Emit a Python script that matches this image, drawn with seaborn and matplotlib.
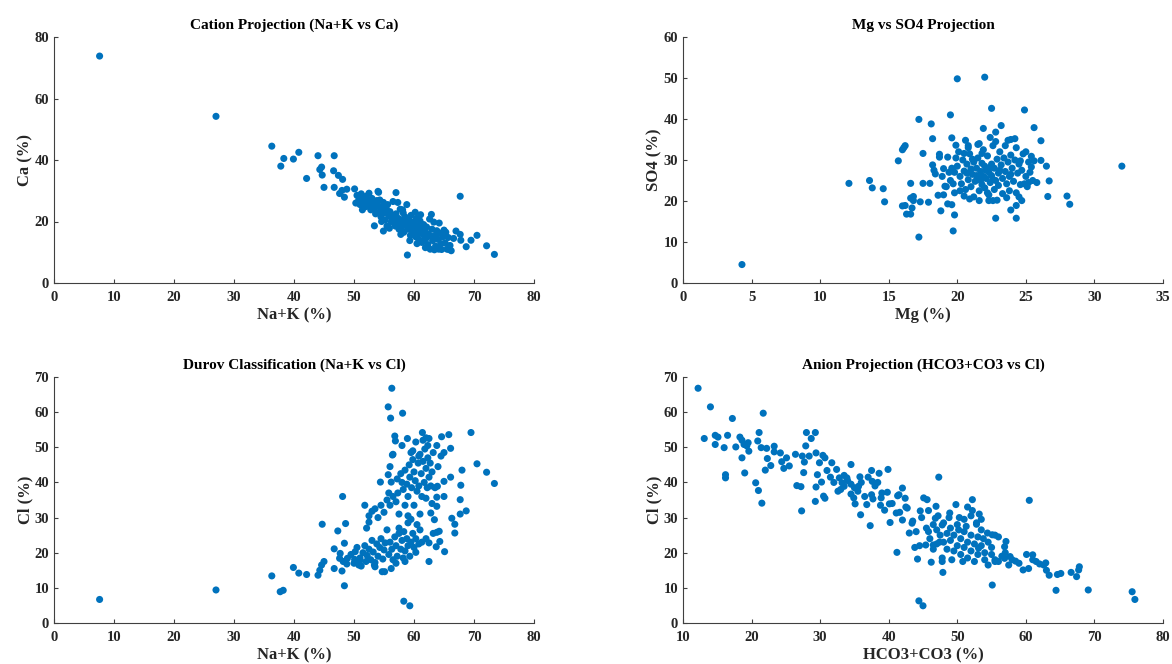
import matplotlib
matplotlib.use("Agg")
import matplotlib.pyplot as plt
import seaborn as sns
import pandas as pd

# ---------------- data ----------------
# Panel 1: Na+K vs Ca
p1_nak = [7.6, 27.0, 36.3, 37.8, 38.3, 39.9, 40.8, 42.1, 44.0, 44.3, 44.6, 44.7, 45.0, 46.7, 46.6, 46.7,
          47.4, 48.1, 47.6, 48.0, 48.4, 48.8, 50.1, 54.0, 57.0, 67.7, 53.4, 54.9, 58.9, 70.5, 72.1, 73.4,
          69.5, 68.7, 67.8, 67.7, 67.0, 65.8, 64.6, 66.6,
          50.5, 50.8, 51.0, 51.2, 51.5, 51.7, 51.9, 52.0, 52.2, 52.4, 52.6, 52.8, 53.0, 53.2, 53.4, 53.6, 53.8, 50.3, 51.4, 52.5,
          54.0, 54.2, 54.3, 54.5, 54.7, 54.9, 55.0, 55.2, 55.4, 55.6, 55.8, 56.0, 56.2, 54.6, 55.5, 56.4, 56.5, 55.9, 54.1, 56.8,
          57.0, 57.2, 57.4, 57.5, 57.7, 57.9, 58.0, 58.2, 58.3, 58.5, 58.7, 58.8, 59.0, 59.2, 59.4, 59.5, 59.7, 59.9, 57.3, 58.1, 56.9, 57.8, 59.3,
          60.0, 60.1, 60.3, 60.4, 60.6, 60.8, 60.9, 61.0, 61.2, 61.3, 61.5, 61.6, 61.8, 62.0, 62.1, 62.3, 62.4, 62.6, 62.8, 61.1, 60.5, 62.9, 60.2, 61.9,
          63.0, 63.1, 63.3, 63.5, 63.6, 63.8, 64.0, 64.2, 64.3, 64.5, 64.8, 65.0, 65.2, 65.5, 65.7, 66.0, 64.1, 63.4, 65.3, 62.7, 66.2,
          56.3, 57.6, 58.6, 59.6, 60.7, 61.7, 58.4, 59.1, 60.0, 57.1, 55.3, 53.9]
p1_ca = [73.8, 54.2, 44.5, 38.0, 40.5, 40.3, 42.5, 34.0, 41.4, 36.9, 37.7, 35.1, 31.1, 41.4, 36.5, 31.1,
         35.0, 33.7, 29.1, 30.1, 27.9, 30.5, 30.6, 29.8, 29.4, 28.2, 18.6, 16.9, 9.1, 15.5, 12.1, 9.3,
         13.9, 11.8, 13.9, 15.8, 16.9, 10.9, 10.9, 14.5,
         28.5, 27.0, 25.5, 29.0, 27.8, 26.2, 24.8, 28.2, 27.0, 25.0, 26.5, 23.8, 27.5, 25.8, 24.3, 22.5, 26.8, 26.0, 23.8, 29.2,
         25.0, 23.0, 27.0, 21.5, 24.5, 26.2, 22.8, 20.5, 24.0, 25.5, 21.8, 23.2, 19.8, 20.0, 18.5, 22.0, 26.5, 17.8, 29.5, 20.8,
         22.5, 19.5, 21.0, 17.5, 24.0, 20.0, 18.3, 22.8, 16.5, 21.5, 19.0, 25.5, 17.5, 20.5, 15.5, 22.0, 18.8, 16.8, 26.2, 23.8, 18.5, 15.8, 13.8,
         19.8, 17.2, 15.0, 21.0, 18.5, 14.2, 16.5, 20.2, 17.8, 13.2, 15.8, 19.0, 16.8, 14.5, 18.2, 12.5, 16.0, 20.8, 15.2, 22.2, 12.8, 22.3, 23.0, 11.5,
         17.5, 13.8, 19.8, 15.5, 12.0, 17.0, 14.2, 19.5, 16.2, 12.8, 15.0, 17.2, 13.0, 11.0, 14.8, 12.2, 11.0, 10.8, 16.5, 11.0, 10.5,
         21.2, 18.0, 19.8, 17.8, 16.0, 14.0, 21.0, 19.2, 17.8, 20.8, 23.5, 25.0]

# Panel 2: Mg vs SO4
p2_mg = [4.3, 12.1, 13.6, 13.8, 14.6, 14.7, 15.7, 16.1, 16.2, 16.0, 16.0, 16.2, 16.3, 16.6, 16.6, 16.6, 16.8, 16.7, 16.8,
         17.2, 17.2, 17.3, 17.5, 17.5, 17.9, 18.1, 18.2, 18.2, 18.3, 18.4, 18.0, 18.7, 18.7, 18.6, 18.8, 19.0, 19.1, 19.3,
         19.3, 19.5, 19.6, 19.6, 19.7, 19.8, 20.0, 19.9, 19.7, 19.8, 20.2, 20.5, 20.6, 20.8, 21.5, 21.6, 21.9, 21.8, 22.0,
         22.5, 22.3, 22.6, 22.8, 22.8, 23.2, 23.7, 23.9, 24.3, 24.3, 24.7, 24.9, 25.0, 25.4, 25.4, 25.2, 25.6, 25.8, 26.1,
         26.1, 26.5, 26.7, 26.6, 28.0, 28.2, 32.0,
         20.0, 20.2, 20.3, 20.4, 20.5, 20.6, 20.7, 20.8, 20.9, 21.0, 21.0, 21.1, 21.2, 21.3, 21.4, 21.5, 21.5, 21.6, 21.7,
         21.8, 21.8, 21.9, 22.0, 22.0, 22.1, 22.2, 22.3, 22.3, 22.4, 22.5, 22.5, 22.6, 22.7, 22.7, 22.8, 22.9, 23.0, 23.0,
         23.1, 23.2, 23.3, 23.3, 23.4, 23.5, 23.6, 23.7, 23.8, 23.8, 23.9, 24.0, 24.1, 24.2, 24.3, 24.4, 24.5, 24.6, 24.7,
         24.8, 25.0, 25.1, 25.2, 19.5, 19.6, 19.8, 19.9, 19.4, 19.2, 18.9, 19.0, 20.1, 20.5, 21.2, 21.9, 22.8, 23.5, 23.9,
         24.3, 22.4, 21.6, 20.8, 23.6, 24.5, 22.9, 20.9, 24.9, 25.3, 25.5, 25.6, 24.2, 22.1, 21.4, 22.6, 23.1, 21.7, 22.4,
         20.7, 23.9, 24.6, 21.1, 22.2]
p2_so4 = [4.5, 24.3, 25.0, 23.2, 23.0, 19.8, 29.8, 33.0, 33.5, 32.5, 18.8, 18.9, 16.8, 16.8, 24.3, 20.7, 20.1, 18.3, 21.1,
          11.2, 39.9, 19.8, 24.3, 31.6, 19.7, 38.8, 35.2, 28.8, 27.5, 26.6, 24.3, 30.7, 31.4, 21.4, 17.6, 27.9, 23.6, 30.7,
          19.3, 41.0, 35.4, 19.1, 12.7, 16.6, 49.8, 33.6, 24.2, 27.0, 22.5, 31.6, 34.8, 33.0, 33.8, 20.1, 37.7, 31.6, 50.2,
          42.6, 20.1, 20.1, 15.8, 36.8, 38.4, 34.8, 17.8, 18.9, 15.8, 20.1, 42.2, 32.0, 30.9, 28.3, 24.5, 37.9, 24.5, 34.7,
          29.9, 28.5, 24.9, 21.1, 21.2, 19.2, 28.5,
          28.5, 26.0, 24.2, 30.0, 27.3, 22.8, 29.0, 25.2, 31.5, 27.8, 23.5, 26.5, 29.5, 24.8, 28.0, 25.8, 30.5, 22.5, 27.2,
          24.0, 29.2, 26.0, 28.5, 23.2, 25.5, 31.0, 27.0, 21.5, 24.5, 29.0, 26.2, 33.5, 22.8, 28.0, 25.0, 30.2, 26.8, 23.8,
          32.0, 28.8, 25.5, 21.8, 30.5, 27.2, 24.2, 29.5, 22.5, 26.0, 31.2, 28.0, 24.8, 30.0, 22.0, 26.8, 29.0, 24.0, 27.5,
          31.5, 26.0, 23.5, 29.5, 25.0, 28.0, 22.0, 30.5, 27.0, 23.5, 26.0, 21.5, 32.0, 21.2, 21.0, 32.5, 34.5, 33.5, 35.0,
          33.0, 35.5, 34.0, 33.5, 20.8, 21.0, 20.2, 20.5, 24.2, 27.0, 25.0, 29.8, 35.2, 27.5, 26.2, 25.3, 27.5, 25.0, 28.2,
          26.8, 26.5, 29.8, 30.2, 22.0]

# Panel 3: Na+K vs Cl
p3_nak = [7.6, 27.0, 36.3, 37.7, 38.2, 39.9, 40.8, 42.1, 44.0, 44.3, 44.7, 44.6, 45.0, 46.7, 46.7, 47.3, 47.6, 48.1,
          48.0, 48.4, 48.4, 48.6, 47.7, 48.2, 48.9, 48.8, 50.1, 50.2, 50.8, 51.8, 52.1, 52.5, 53.0, 53.4, 54.4, 54.7,
          55.1, 55.7, 56.3, 56.1, 58.1, 55.7, 56.2, 56.4, 56.8, 56.9, 58.3, 59.3, 58.9, 61.4, 62.0, 62.5, 64.6, 65.8,
          69.5, 70.5, 72.1, 73.4, 67.8, 68.0, 66.1, 66.1, 67.7, 67.7, 68.7, 66.8, 66.8, 66.3, 65.1, 65.0, 65.0, 64.3,
          64.2, 63.7, 62.5, 60.3, 62.8, 63.4, 63.8, 63.8, 63.9,
          49.5, 50.0, 50.5, 51.0, 51.2, 51.5, 51.8, 52.0, 52.2, 52.5, 52.8, 53.0, 53.2, 53.5, 53.8, 54.0, 54.3, 54.5, 54.8,
          55.0, 55.2, 55.5, 55.8, 56.0, 56.3, 56.5, 56.8, 57.0, 57.2, 57.5, 57.8, 58.0, 58.2, 58.5, 58.8, 59.0, 59.3, 59.5,
          59.8, 60.0, 60.3, 57.0, 58.5, 56.2, 53.5, 51.0, 60.8, 61.3, 62.0, 62.5, 63.2, 63.8, 61.0, 60.5, 59.5, 59.0, 58.3, 57.5,
          52.5, 53.5, 54.0, 54.5, 55.0, 55.5, 55.8, 56.0, 56.5, 57.0, 57.3, 57.5, 57.8, 58.0, 58.2, 58.5, 58.8, 59.0, 59.2,
          59.3, 59.5, 59.6, 59.8, 60.0, 60.2, 60.3, 60.5, 60.7, 60.8, 61.0, 61.2, 61.3, 61.5, 61.7, 61.8, 62.0, 62.2, 62.3,
          62.5, 62.7, 62.8, 63.0, 63.2, 63.5, 63.8, 64.0, 60.0, 61.0, 59.0, 58.5, 62.0, 63.0, 64.5, 65.0, 59.8, 58.0, 61.5,
          62.3, 60.8, 56.5, 57.2, 56.0]
p3_cl = [6.7, 9.4, 13.4, 8.9, 9.3, 15.8, 14.2, 13.8, 13.6, 15.0, 28.1, 16.5, 17.5, 15.5, 21.1, 26.2, 18.4, 36.0,
         14.8, 10.6, 22.7, 28.3, 19.8, 17.5, 18.4, 16.8, 18.1, 20.3, 16.5, 33.5, 27.0, 28.7, 31.8, 16.5, 40.1, 14.6,
         14.6, 61.5, 66.8, 58.3, 59.7, 42.2, 40.1, 47.8, 53.2, 51.8, 6.2, 4.9, 52.5, 54.2, 52.7, 52.5, 53.0, 53.6,
         54.2, 45.3, 42.9, 39.7, 39.2, 43.5, 41.5, 49.7, 35.1, 31.0, 31.9, 25.6, 28.1, 29.8, 20.3, 36.0, 40.3, 23.2,
         26.1, 21.7, 17.5, 20.1, 31.3, 29.4, 33.2, 35.8, 38.9,
         19.5, 17.0, 21.5, 18.5, 16.2, 20.0, 22.0, 17.5, 19.2, 21.0, 18.0, 23.5, 20.2, 17.2, 22.5, 19.0, 21.5, 24.0, 18.2,
         20.8, 22.8, 26.5, 19.5, 23.0, 21.0, 18.0, 24.5, 22.0, 19.0, 25.5, 21.0, 23.5, 18.5, 20.5, 24.0, 22.0, 19.0, 23.0,
         25.5, 21.5, 24.0, 17.0, 17.5, 15.5, 16.0, 17.8, 22.5, 23.0, 24.0, 22.8, 25.5, 25.8, 26.5, 28.0, 29.5, 28.5, 26.0, 27.0,
         30.5, 32.5, 30.0, 33.5, 31.5, 35.0, 37.0, 33.5, 36.0, 34.5, 37.0, 31.0, 42.5, 40.0, 38.0, 43.5, 39.5, 36.0, 45.0,
         41.5, 48.5, 38.5, 46.5, 43.0, 40.5, 51.5, 37.5, 45.5, 39.0, 48.0, 42.5, 36.0, 46.0, 40.0, 49.5, 44.0, 38.5, 47.0,
         41.5, 45.5, 39.0, 43.0, 48.5, 38.5, 50.5, 44.5, 33.5, 31.0, 30.5, 33.5, 35.5, 34.0, 47.5, 48.5, 49.0, 50.5, 52.0,
         50.5, 47.5, 48.0, 41.0, 44.5]

# Panel 4: HCO3+CO3 vs Cl
p4_hco3 = [12.2, 13.1, 14.0, 14.7, 14.7, 15.1, 16.2, 16.2, 16.0, 16.5, 17.2, 17.7, 18.3, 18.6, 18.6, 18.9, 19.0, 19.3,
           19.6, 19.5, 20.6, 20.9, 21.0, 21.1, 21.5, 21.4, 21.7, 22.0, 22.2, 22.3, 22.8, 23.3, 23.3, 24.2, 24.4, 24.7,
           25.1, 25.5, 26.4, 26.6, 27.2, 27.3, 27.4, 27.6, 27.9, 28.0, 27.7, 28.4, 28.7, 29.3, 29.3, 29.4, 29.4, 29.6,
           29.9, 30.4, 30.7, 30.2, 30.5, 30.7, 31.0, 31.7, 32.4, 32.6, 32.8, 33.2, 33.5, 33.9, 34.5, 34.5, 34.9, 35.1,
           35.8, 35.9, 35.6, 36.8, 37.3, 37.5, 37.6, 37.7, 38.6, 38.4, 38.8, 38.9, 39.4, 39.8, 39.9, 40.2, 40.1, 41.2,
           41.1, 41.3, 41.6, 42.0, 42.0, 42.4, 42.7, 43.0, 43.4, 43.8, 44.0, 44.2, 44.4, 45.0, 44.6, 45.1, 45.6, 45.4,
           45.8, 46.2, 46.5, 46.8, 46.9, 47.3, 47.4, 47.8, 47.9, 47.8, 48.9, 49.8, 50.3, 51.3, 52.2, 52.2, 52.8, 53.2,
           53.1, 54.4, 55.1, 55.1, 55.5, 56.9, 57.1, 56.9, 57.7, 58.5, 59.6, 60.1, 60.5, 60.4, 61.0, 61.5, 62.6, 62.9,
           63.4, 64.4, 64.6, 65.1, 66.6, 67.4, 67.7, 67.8, 69.1, 75.5, 75.9,
           45.5, 46.0, 46.5, 47.0, 47.0, 47.5, 48.0, 48.0, 48.5, 48.5, 49.0, 49.0, 49.5, 49.5, 50.0, 50.0, 50.5, 50.5,
           51.0, 51.0, 51.0, 51.5, 51.5, 52.0, 52.0, 52.5, 52.5, 53.0, 53.0, 53.5, 53.5, 54.0, 54.0, 54.5, 54.5, 55.0,
           55.0, 55.5, 56.0, 56.5, 49.2, 50.8, 47.8, 46.5, 52.8, 53.8, 50.2, 48.8, 47.2, 45.8, 44.5, 44.8, 43.5, 42.5,
           41.5, 40.5, 39.0, 38.0, 37.0, 36.0, 35.5, 34.0, 33.5, 33.0, 32.0, 31.5, 35.0, 36.5, 34.5, 37.5, 58.0, 59.0,
           57.5, 62.0, 61.0, 63.0, 56.0, 57.0, 53.5, 52.0, 51.5, 55.5]
p4_cl = [66.8, 52.5, 61.5, 53.4, 50.8, 52.9, 42.2, 41.3, 49.9, 53.4, 58.2, 50.1, 52.9, 52.0, 47.0, 50.8, 42.7, 50.4,
         48.9, 51.3, 39.9, 51.8, 37.7, 54.2, 34.1, 49.9, 59.7, 43.5, 49.7, 46.8, 44.8, 50.3, 48.7, 48.4, 45.9, 44.0,
         47.0, 44.7, 48.0, 39.1, 38.8, 31.9, 47.5, 42.8, 50.4, 54.2, 45.8, 47.5, 52.5, 54.2, 34.6, 38.7, 48.4, 42.2,
         45.6, 47.7, 47.0, 40.1, 36.1, 35.5, 43.4, 45.6, 43.7, 37.5, 41.3, 39.9, 38.9, 41.3, 45.1, 36.7, 35.6, 33.9,
         41.6, 30.8, 38.9, 33.7, 27.7, 43.4, 40.3, 35.3, 42.6, 40.0, 33.5, 35.6, 32.1, 37.2, 43.7, 28.6, 33.9, 20.1,
         31.3, 36.2, 31.5, 38.4, 29.3, 35.5, 32.7, 25.6, 28.4, 21.5, 26.0, 18.2, 6.3, 4.9, 31.9, 35.6, 35.1, 22.2,
         26.0, 17.3, 22.2, 29.8, 33.2, 41.5, 23.0, 17.5, 14.4, 27.9, 31.3, 33.7, 30.0, 27.5, 35.1, 32.0, 28.1, 31.0,
         21.3, 25.6, 10.8, 25.1, 17.5, 18.4, 23.2, 21.7, 18.9, 17.6, 15.1, 19.5, 34.9, 15.5, 19.4, 17.5, 16.5, 17.1,
         13.6, 9.3, 13.8, 14.1, 14.4, 13.2, 15.1, 16.0, 9.4, 8.9, 6.7,
         27.0, 24.0, 28.0, 22.5, 26.5, 25.0, 23.0, 28.5, 21.0, 25.5, 23.5, 27.0, 20.5, 25.0, 22.0, 28.0, 19.5, 24.0,
         21.5, 26.0, 29.5, 18.5, 23.0, 20.5, 25.0, 22.5, 17.5, 24.5, 19.5, 22.0, 26.5, 20.0, 18.0, 23.0, 16.5, 19.5,
         21.5, 18.0, 17.5, 19.0, 18.0, 17.5, 18.5, 21.0, 28.5, 24.0, 26.5, 30.0, 30.5, 32.0, 22.0, 30.0, 29.0, 33.0,
         36.5, 34.0, 37.0, 39.0, 41.5, 40.0, 37.5, 40.5, 42.0, 38.0, 40.0, 41.5, 38.5, 36.0, 39.5, 36.5, 18.0, 17.0,
         16.5, 16.8, 18.0, 15.0, 24.5, 20.0, 29.5, 30.5, 33.0, 25.0]

titles = ["Cation Projection (Na+K vs Ca)", "Mg vs SO4 Projection",
          "Durov Classification (Na+K vs Cl)", "Anion Projection (HCO3+CO3 vs Cl)"]
xlabels = ["Na+K (%)", "Mg (%)", "Na+K (%)", "HCO3+CO3 (%)"]
ylabels = ["Ca (%)", "SO4 (%)", "Cl (%)", "Cl (%)"]
xticks = [list(range(0, 81, 10)), list(range(0, 36, 5)), list(range(0, 81, 10)), list(range(10, 81, 10))]
yticks = [list(range(0, 81, 20)), list(range(0, 61, 10)), list(range(0, 71, 10)), list(range(0, 71, 10))]

# ---------------- plotting ----------------
sns.set_style("ticks")
plt.rcParams["font.family"] = ["Liberation Serif", "DejaVu Serif"]
plt.rcParams["font.weight"] = "bold"

W, H = 1172, 664
fig = plt.figure(figsize=(W / 100, H / 100), dpi=100)
boxes = [
    (54, 37, 534, 283),
    (683, 37, 1163, 283),
    (54, 377, 534, 623),
    (683, 377, 1163, 623),
]
series = [(p1_nak, p1_ca), (p2_mg, p2_so4), (p3_nak, p3_cl), (p4_hco3, p4_cl)]
color = "#0072BD"
axcol = "#404040"
txtcol = "#262626"

for i, ((l, t, r, b), (xs, ys)) in enumerate(zip(boxes, series)):
    ax = fig.add_axes([l / W, 1 - b / H, (r - l) / W, (b - t) / H])
    df = pd.DataFrame({"x": xs, "y": ys})
    sns.scatterplot(data=df, x="x", y="y", ax=ax, color=color, s=26, linewidth=0, edgecolor="none")
    ax.set_xlim(xticks[i][0], xticks[i][-1])
    ax.set_ylim(yticks[i][0], yticks[i][-1])
    ax.set_xticks(xticks[i])
    ax.set_yticks(yticks[i])
    ax.set_title(titles[i], fontsize=11, fontweight="bold", color="black", pad=6)
    ax.set_xlabel(xlabels[i], fontsize=12, fontweight="bold", color=txtcol, labelpad=2)
    ax.set_ylabel(ylabels[i], fontsize=12, fontweight="bold", color=txtcol, labelpad=1)
    for sp in ["top", "right"]:
        ax.spines[sp].set_visible(False)
    for sp in ["left", "bottom"]:
        ax.spines[sp].set_color(axcol)
        ax.spines[sp].set_linewidth(0.8)
    ax.tick_params(direction="in", length=3, width=0.8, colors=axcol, labelcolor=txtcol, labelsize=10.5)
    ax.tick_params(axis="x", pad=6)
    ax.tick_params(axis="y", pad=3.5)
    for lab in ax.get_xticklabels() + ax.get_yticklabels():
        lab.set_fontweight("bold")

fig.savefig("out.png", dpi=100, facecolor="white")
